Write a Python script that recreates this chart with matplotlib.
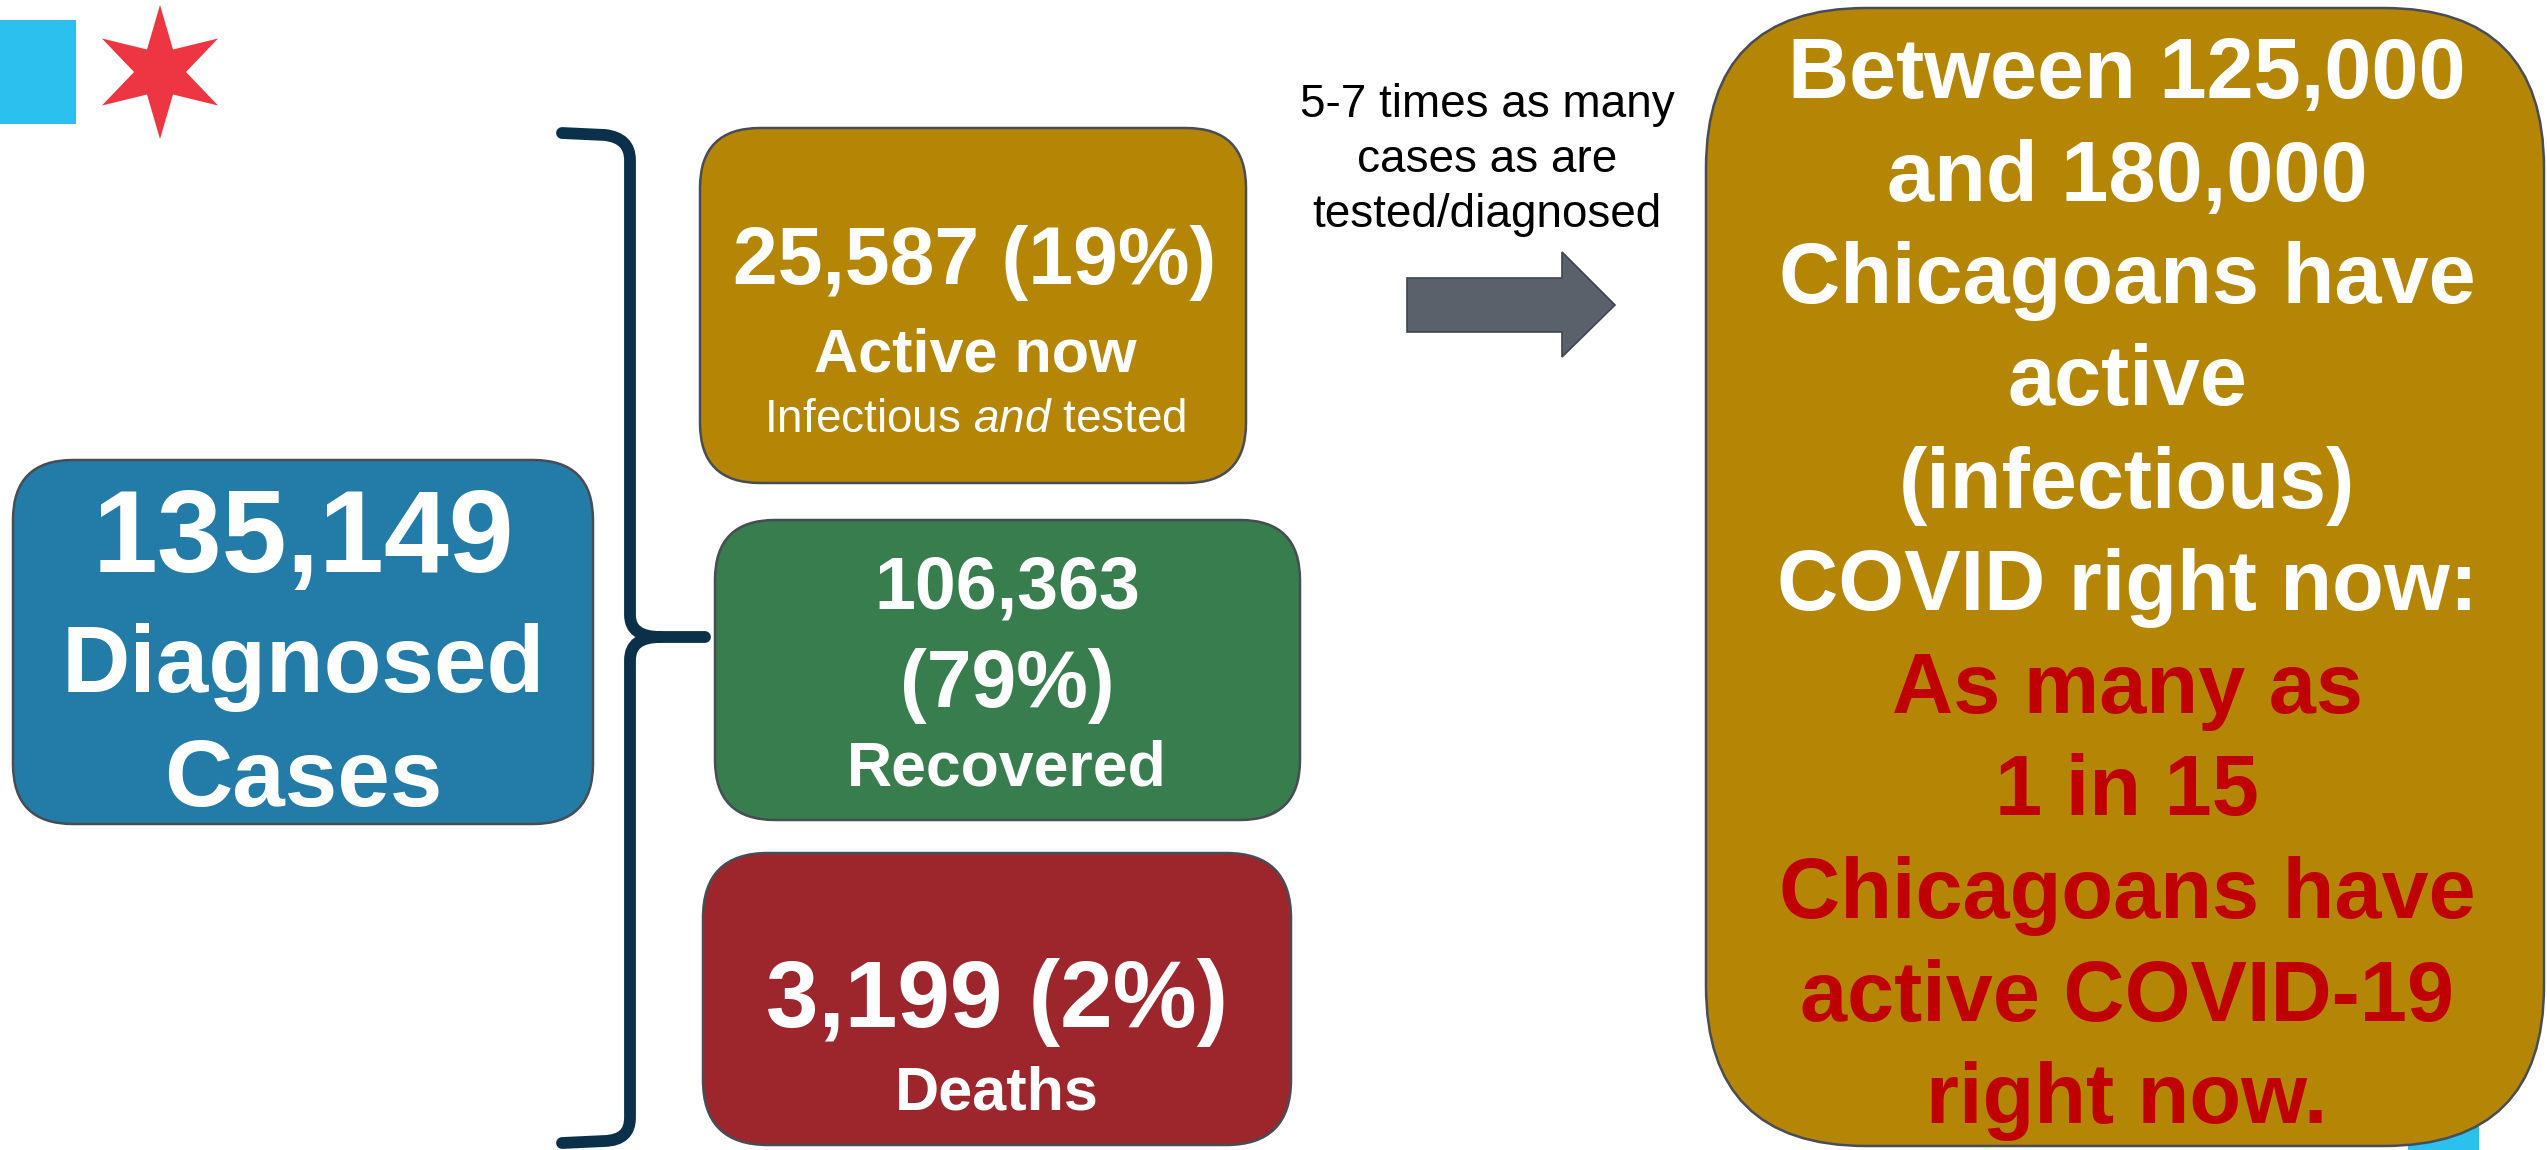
import numpy as np
import matplotlib
matplotlib.use("Agg")
import matplotlib.pyplot as plt
from matplotlib.patches import FancyBboxPatch, Polygon, Rectangle, PathPatch
from matplotlib.path import Path

plt.rcParams['font.family'] = ['Liberation Sans', 'DejaVu Sans']
plt.rcParams['mathtext.fontset'] = 'custom'
plt.rcParams['mathtext.rm'] = 'Liberation Sans'
plt.rcParams['mathtext.it'] = 'Liberation Sans:italic'

# numbers
diagnosed = 135149
counts = [25587, 106363, 3199]
shares = [19, 79, 2]
groups = ["Active now", "Recovered", "Deaths"]
group_colors = ["#B58605", "#377D4D", "#9C262B"]
multiplier_note = ["5-7 times as many", "cases as are", "tested/diagnosed"]
estimate_low, estimate_high = 125000, 180000
one_in = 15
big_lines_white = [f"Between {estimate_low:,}", f"and {estimate_high:,}", "Chicagoans have",
                   "active", "(infectious)", "COVID right now:"]
big_lines_red = ["As many as", f"1 in {one_in}", "Chicagoans have", "active COVID-19", "right now."]

W, H = 2547, 1150
fig = plt.figure(figsize=(W / 100, H / 100), dpi=100)
ax = fig.add_axes([0, 0, 1, 1])
ax.set_xlim(0, W)
ax.set_ylim(H, 0)
ax.axis('off')

EDGE = "#474C55"


def box(x, y, w, h, color, r, z=2):
    ax.add_patch(FancyBboxPatch((x, y), w, h, boxstyle=f"round,pad=0,rounding_size={r}",
                                fc=color, ec=EDGE, lw=1.8, zorder=z))


def txt(x, y, s, size, color="white", weight="bold", **kw):
    ax.text(x, y, s, fontsize=size, color=color, fontweight=weight,
            ha="center", va="baseline", zorder=5, **kw)


# Chicago flag bits
ax.add_patch(Rectangle((0, 20), 76, 104, fc="#2BC0EE", ec="none"))
ang = np.deg2rad(np.arange(12) * 30 - 90)
rad = np.where(np.arange(12) % 2 == 0, 67, 26)
ax.add_patch(Polygon(np.c_[160 + rad * np.cos(ang), 72 + rad * np.sin(ang)],
                     fc="#EE3542", ec="none"))

# diagnosed box
box(13, 460, 580, 364, "#237CA8", 60)
txt(303, 572, f"{diagnosed:,}", 84)
txt(303, 692, "Diagnosed", 68)
txt(303, 806, "Cases", 68)

# brace
bc = "#0B3049"
p1 = Path([(562, 133), (605, 135), (630, 138), (630, 160), (630, 615), (630, 637), (660, 637), (705, 637)],
          [Path.MOVETO, Path.LINETO, Path.CURVE3, Path.CURVE3, Path.LINETO, Path.CURVE3, Path.CURVE3, Path.LINETO])
p2 = Path([(660, 637), (630, 637), (630, 660), (630, 1118), (630, 1140), (605, 1141), (562, 1143)],
          [Path.MOVETO, Path.CURVE3, Path.CURVE3, Path.LINETO, Path.CURVE3, Path.CURVE3, Path.LINETO])
for p in (p1, p2):
    ax.add_patch(PathPatch(p, fc="none", ec=bc, lw=8.5, capstyle="round", joinstyle="round"))

# active
box(700, 128, 546, 355, group_colors[0], 60)
txt(975, 284, f"{counts[0]:,} ({shares[0]}%)", 58)
txt(975, 371, groups[0], 44)
ax.text(975, 432, r"Infectious $\mathit{and}$ tested", fontsize=33, color="white",
        ha="center", va="baseline", zorder=5)

# recovered
box(715, 520, 585, 300, group_colors[1], 60)
txt(1007, 608, f"{counts[1]:,}", 53)
txt(1007, 707, f"({shares[1]}%)", 58)
txt(1007, 786, groups[1], 45)

# deaths
box(703, 853, 588, 292, group_colors[2], 65)
txt(997, 1027, f"{counts[2]:,} ({shares[2]}%)", 68)
txt(997, 1110, groups[2], 44)

# note + arrow
ax.text(1487, 160, "\n".join(multiplier_note), fontsize=33, color="black",
        ha="center", va="center", multialignment="center", linespacing=1.32)
ax.add_patch(Polygon([(1407, 278), (1562, 278), (1562, 252), (1615, 305), (1562, 357), (1562, 332), (1407, 332)],
                     fc="#5A616B", ec="#40464E", lw=1.2))

# big estimate box
ax.add_patch(Rectangle((2408, 1080), 71, 70, fc="#2BC0EE", ec="none", zorder=1))
box(1706, 8, 838, 1138, "#B58605", 160)
for i, s in enumerate(big_lines_white + big_lines_red):
    col = "white" if i < len(big_lines_white) else "#C00000"
    txt(2127, 98 + 102.5 * i, s, 61, color=col)

fig.savefig("out.png", dpi=100)
